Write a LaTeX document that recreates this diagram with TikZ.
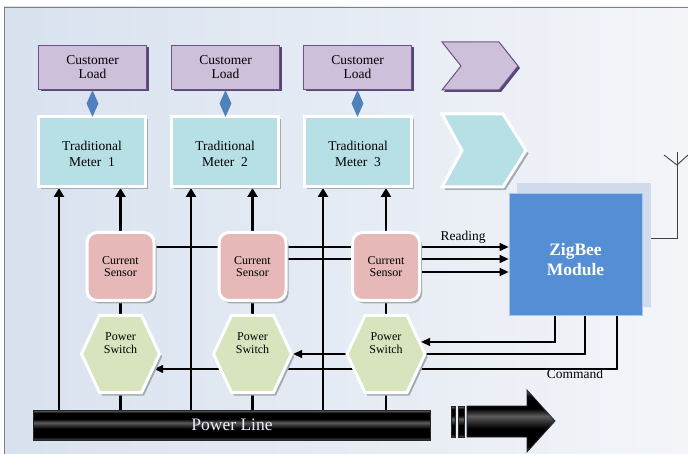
\documentclass[tikz,border=0pt]{standalone}
\usepackage{fontspec}
\setmainfont{Liberation Serif}
\usetikzlibrary{arrows.meta,shapes.symbols,shapes.geometric,shadows}
\definecolor{bgL}{HTML}{D8E2EF}
\definecolor{bgR}{HTML}{F3F5F9}
\definecolor{clF}{HTML}{CCC0DA}
\definecolor{clB}{HTML}{6B5388}
\definecolor{clS}{HTML}{5A4474}
\definecolor{tmF}{HTML}{B7DFE6}
\definecolor{shG}{HTML}{A2AAB3}
\definecolor{snF}{HTML}{E6B9B8}
\definecolor{swF}{HTML}{D7E4BD}
\definecolor{dmF}{HTML}{4F81BD}
\definecolor{zbF}{HTML}{558ED5}
\definecolor{zbS}{HTML}{D0DCEE}
\definecolor{pipeT}{HTML}{747474}
\definecolor{pipeM}{HTML}{5C5C5C}
\definecolor{pipeB}{HTML}{4A4A4A}
\definecolor{antC}{HTML}{404040}
\pgfdeclareverticalshading{pipe}{100bp}{color(0bp)=(pipeB); color(25bp)=(pipeB); color(30bp)=(black); color(44bp)=(black); color(54bp)=(pipeM); color(60bp)=(black); color(70bp)=(black); color(75bp)=(pipeT); color(100bp)=(pipeT)}
\pgfdeclarelayer{bglayer}
\pgfdeclarelayer{wires}
\pgfsetlayers{bglayer,wires,main}
\begin{document}
\begin{tikzpicture}[x=1pt,y=-1pt,
  cl/.style={draw=clB, line width=1pt, fill=clF, minimum width=108pt, minimum height=44pt, inner sep=0pt, align=center,
    font=\fontsize{13.5}{14}\selectfont, drop shadow={shadow xshift=2pt, shadow yshift=-2pt, fill=clS, opacity=1}},
  tm/.style={draw=white, line width=3pt, fill=tmF, minimum width=107pt, minimum height=70pt, inner sep=0pt,
    drop shadow={shadow xshift=2.5pt, shadow yshift=-3pt, fill=shG, opacity=1}},
  tmt/.style={align=center, font=\fontsize{13.5}{16}\selectfont, inner sep=0pt, yshift=-2.5pt},
  sn/.style={draw=white, line width=3pt, fill=snF, rounded corners=10pt, minimum width=67pt, minimum height=68pt, inner sep=0pt,
    align=center, font=\fontsize{12}{12.5}\selectfont, drop shadow={shadow xshift=2.5pt, shadow yshift=-3pt, fill=shG, opacity=1}},
  sw/.style={signal, signal to=east and west, signal pointer angle=130, draw=white, line width=3pt, fill=swF,
    minimum width=78pt, minimum height=77pt, inner sep=0pt, drop shadow={shadow xshift=2.5pt, shadow yshift=-3pt, fill=shG, opacity=1}},
  swt/.style={align=center, font=\fontsize{12}{13}\selectfont, inner sep=0pt},
  dm/.style={diamond, fill=dmF, minimum width=12pt, minimum height=27pt, inner sep=0pt},
  zb/.style={fill=zbF, draw=zbF!50!white, line width=0.8pt, minimum width=133pt, minimum height=122pt, inner sep=0pt},
  zbt/.style={text=white, font=\bfseries\fontsize{17.5}{19.5}\selectfont, align=center, inner sep=0pt},
  lbl/.style={font=\fontsize{13.5}{14}\selectfont, inner sep=0pt},
  pw/.style={line width=2.8pt, -{Triangle[width=10pt,length=9pt]}},
  pwp/.style={line width=2.8pt},
  rd/.style={line width=1.2pt, -{Triangle[width=8pt,length=9pt]}},
  pline/.style={shade, shading=pipe, draw=black!85, line width=0.8pt, minimum width=397pt, minimum height=30pt, inner sep=0pt,
    text=white!92!blue, font=\fontsize{17.5}{18}\selectfont}
]
\useasboundingbox (0,0) rectangle (688,454);
\begin{pgfonlayer}{bglayer}
\fill[white] (0,0) rectangle (688,454);
\shade[left color=bgL, right color=bgR] (4,7) rectangle (688,454);
\draw[gray, line width=0.8pt] (4,454) -- (4,7) -- (688,7);
\end{pgfonlayer}

% customer loads
\node[cl] (c1) at (92.5,67.5) {Customer\\Load};
\node[cl] (c2) at (225.5,67.5) {Customer\\Load};
\node[cl] (c3) at (357.5,67.5) {Customer\\Load};
% purple chevron
\path[draw=clB, line width=1pt, fill=clF, drop shadow={shadow xshift=2pt, shadow yshift=-2pt, fill=clS, opacity=1}]
  (442,42) -- (499,42) -- (518,66) -- (499,90) -- (442,90) -- (461,66) -- cycle;
% meters
\node[tm, label={[tmt]center:Traditional\\Meter~~1}] (t1) at (92,151.5) {};
\node[tm, label={[tmt]center:Traditional\\Meter~~2}] (t2) at (225,151.5) {};
\node[tm, label={[tmt]center:Traditional\\Meter~~3}] (t3) at (358,151.5) {};
% cyan chevron
\path[draw=white, line width=3pt, fill=tmF, drop shadow={shadow xshift=2.5pt, shadow yshift=-3pt, fill=shG, opacity=1}]
  (442,114) -- (503,114) -- (526,150.5) -- (503,187) -- (442,187) -- (462,150.5) -- cycle;
% diamonds
\node[dm] (d1) at (92.5,103.5) {};
\node[dm] (d2) at (225.5,103.5) {};
\node[dm] (d3) at (357.5,103.5) {};
% sensors
\node[sn] (s1) at (120.5,266.5) {Current\\Sensor};
\node[sn] (s2) at (252.5,266.5) {Current\\Sensor};
\node[sn] (s3) at (386,266.5) {Current\\Sensor};
% switches
\node[sw] (w1) at (120.5,354) {};
\node[sw] (w2) at (252.5,354) {};
\node[sw] (w3) at (386,354) {};
\node[swt] (w1t) at (120.5,343.5) {Power\\Switch};
\node[swt] (w2t) at (252.5,343.5) {Power\\Switch};
\node[swt] (w3t) at (386,343.5) {Power\\Switch};
% power line
\node[pline] (pl) at (232,425) {Power Line};
% big arrow
\path[shade, shading=pipe, draw=black!85, line width=0.8pt] (451,406) rectangle (455,437);
\path[shade, shading=pipe, draw=black!85, line width=0.8pt] (458,406) rectangle (464,437);
\path[shade, shading=pipe, draw=black!85, line width=0.8pt]
  (467,406) -- (527,406) -- (527,390) -- (555,421) -- (527,452) -- (527,437) -- (467,437) -- cycle;
% zigbee
\node[fill=zbS, minimum width=134pt, minimum height=124pt, inner sep=0pt] (zbs) at (584,245) {};
\node[zb] (zb) at (575.5,254) {};
\node[zbt] (zbt) at (575.5,259.5) {ZigBee\\Module};
\node[lbl] (rdl) at (463,237) {Reading};
\node[lbl] (cml) at (575,374) {Command};
% antenna
\coordinate (antT) at (677,152);
\coordinate (antL) at (664,155);
\coordinate (antR) at (688,155);
\coordinate (antV) at (677,165);

\begin{pgfonlayer}{wires}
\coordinate (a1) at (59,0);
\coordinate (a2) at (191,0);
\coordinate (a3) at (323,0);
\draw[pw] (pl.north -| a1) -- (t1.south -| a1);
\draw[pw] (pl.north -| a2) -- (t2.south -| a2);
\draw[pw] (pl.north -| a3) -- (t3.south -| a3);
\foreach \i in {1,2,3}{
  \draw[pwp] (pl.north -| w\i) -- (w\i.south);
  \draw[pwp] (w\i.north) -- (s\i.south);
  \draw[pw] (s\i.north) -- (t\i.south -| s\i);
}
\draw[rd] ([yshift=19.5pt]s1.east) -- ([yshift=19.5pt]s1.east -| zb.west);
\draw[rd] ([yshift=7.5pt]s2.east) -- ([yshift=7.5pt]s2.east -| zb.west);
\draw[rd] ([yshift=-5.5pt]s3.east) -- ([yshift=-5.5pt]s3.east -| zb.west);
\draw[rd] ([xshift=-20.5pt]zb.south) |- (w3.19);
\draw[rd] ([xshift=9.5pt]zb.south) |- (w2.east);
\draw[rd] ([xshift=41.5pt]zb.south) |- (w1.-24);
\draw[antC, line width=0.9pt] ([yshift=16pt]zb.east) -| (antT);
\draw[antC, line width=0.9pt] (antL) -- (antV) -- (antR);
\end{pgfonlayer}
\end{tikzpicture}
\end{document}
